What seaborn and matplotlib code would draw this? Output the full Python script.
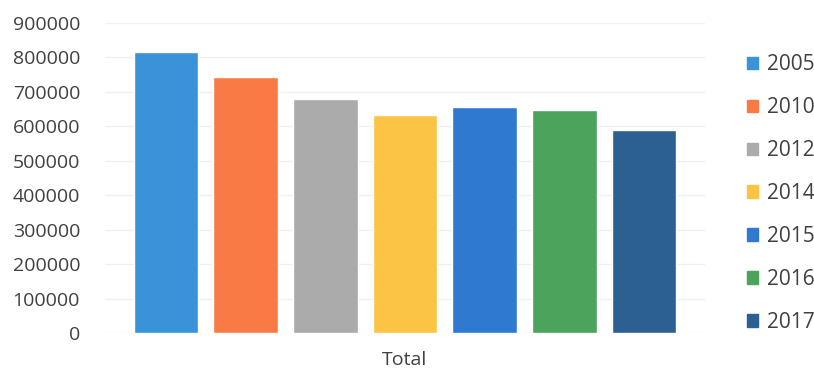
import matplotlib
matplotlib.use("Agg")
import matplotlib.pyplot as plt
import seaborn as sns
import pandas as pd

# Totals per year
years = ["2005", "2010", "2012", "2014", "2015", "2016", "2017"]
totals = [816000, 744000, 678000, 634000, 655000, 647000, 590000]
category = "Total"
y_ticks = [0, 100000, 200000, 300000, 400000, 500000, 600000, 700000, 800000, 900000]

colors = ["#3A92D8", "#FA7A45", "#ABABAB", "#FCC445", "#2F7AD0", "#4CA35C", "#2C5F92"]

df = pd.DataFrame({"category": [category] * len(years), "year": years, "total": totals})

sns.set_theme(style="white")
plt.rcParams["font.family"] = ["Open Sans", "DejaVu Sans"]

fig = plt.figure(figsize=(8.14, 3.71), dpi=100)
ax = fig.add_axes([105 / 814, 38 / 371, 600 / 814, 310 / 371])

sns.barplot(data=df, x="category", y="total", hue="year", hue_order=years,
            palette=dict(zip(years, colors)), width=0.93, gap=0.19,
            saturation=1, errorbar=None, ax=ax, legend=False)

ax.set_xlim(-0.5, 0.5)
ax.set_ylim(0, 900000)
ax.set_yticks(y_ticks)
ax.set_yticklabels([str(v) for v in y_ticks])
ax.yaxis.grid(True, color="#F0F0F0", linewidth=1)
ax.set_axisbelow(True)
for s in ax.spines.values():
    s.set_visible(False)
ax.tick_params(axis="y", length=0, pad=18, labelsize=14, labelcolor="#404040")
ax.tick_params(axis="x", length=0, pad=13, labelsize=14, labelcolor="#404040")
ax.set_xlabel("")
ax.set_ylabel("")

handles = [plt.Rectangle((0, 0), 1, 1, color=c) for c in colors]
fig.legend(handles, years, loc="upper left", bbox_to_anchor=(747 / 814, 1 - 54.5 / 371),
           frameon=False, fontsize=15, labelcolor="#404040",
           handlelength=0.55, handleheight=0.55, handletextpad=0.4,
           labelspacing=1.05, borderaxespad=0, borderpad=0)

fig.savefig("out.png", dpi=100, facecolor="white")
